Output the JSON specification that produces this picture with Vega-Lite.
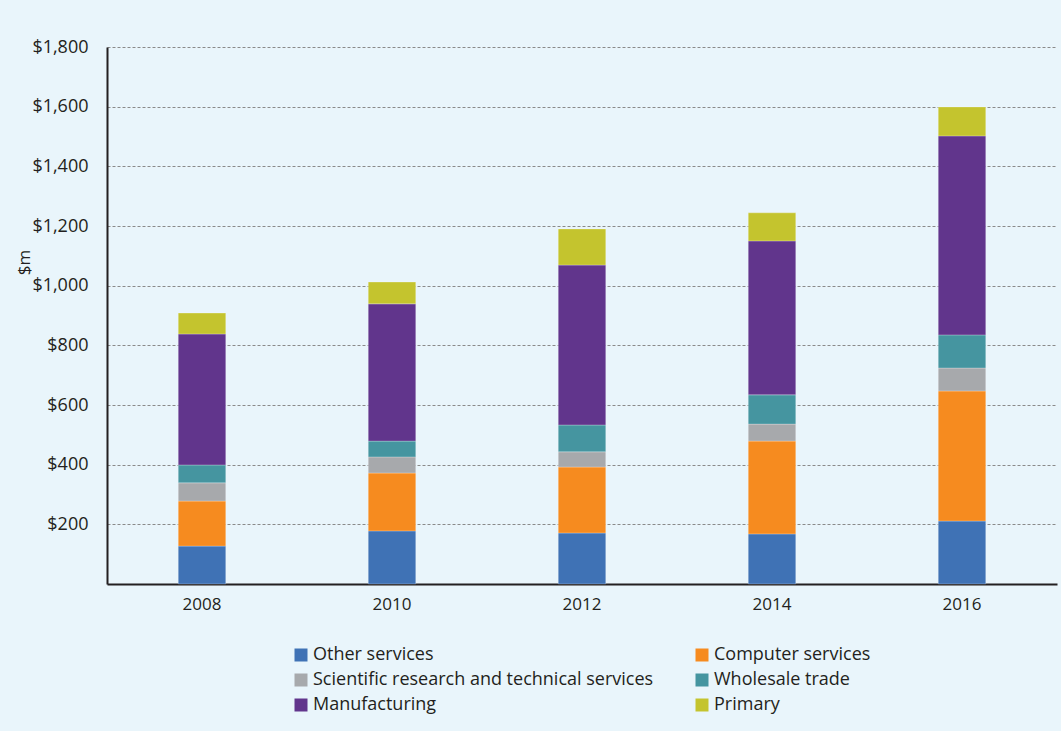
{
  "$schema": "https://vega.github.io/schema/vega-lite/v6.json",
  "width": 950,
  "height": 537,
  "autosize": {"type": "none"},
  "padding": {"left": 107, "top": 47, "right": 4, "bottom": 147},
  "background": "#e9f5fb",
  "config": {
    "view": {"stroke": null},
    "font": "Open Sans",
    "axis": {"labelFont": "Open Sans", "titleFont": "Open Sans", "labelColor": "#231f20", "titleColor": "#231f20"},
    "legend": {"labelFont": "Open Sans", "labelColor": "#231f20"}
  },
  "data": {
    "values": [
      {"year": "2008", "sector": "Other services", "ord": 1, "value": 127},
      {"year": "2008", "sector": "Computer services", "ord": 2, "value": 151},
      {"year": "2008", "sector": "Scientific research and technical services", "ord": 3, "value": 61},
      {"year": "2008", "sector": "Wholesale trade", "ord": 4, "value": 60},
      {"year": "2008", "sector": "Manufacturing", "ord": 5, "value": 439},
      {"year": "2008", "sector": "Primary", "ord": 6, "value": 70},
      {"year": "2010", "sector": "Other services", "ord": 1, "value": 178},
      {"year": "2010", "sector": "Computer services", "ord": 2, "value": 194},
      {"year": "2010", "sector": "Scientific research and technical services", "ord": 3, "value": 54},
      {"year": "2010", "sector": "Wholesale trade", "ord": 4, "value": 53},
      {"year": "2010", "sector": "Manufacturing", "ord": 5, "value": 460},
      {"year": "2010", "sector": "Primary", "ord": 6, "value": 73},
      {"year": "2012", "sector": "Other services", "ord": 1, "value": 171},
      {"year": "2012", "sector": "Computer services", "ord": 2, "value": 221},
      {"year": "2012", "sector": "Scientific research and technical services", "ord": 3, "value": 51},
      {"year": "2012", "sector": "Wholesale trade", "ord": 4, "value": 90},
      {"year": "2012", "sector": "Manufacturing", "ord": 5, "value": 536},
      {"year": "2012", "sector": "Primary", "ord": 6, "value": 121},
      {"year": "2014", "sector": "Other services", "ord": 1, "value": 168},
      {"year": "2014", "sector": "Computer services", "ord": 2, "value": 311},
      {"year": "2014", "sector": "Scientific research and technical services", "ord": 3, "value": 57},
      {"year": "2014", "sector": "Wholesale trade", "ord": 4, "value": 98},
      {"year": "2014", "sector": "Manufacturing", "ord": 5, "value": 516},
      {"year": "2014", "sector": "Primary", "ord": 6, "value": 94},
      {"year": "2016", "sector": "Other services", "ord": 1, "value": 211},
      {"year": "2016", "sector": "Computer services", "ord": 2, "value": 436},
      {"year": "2016", "sector": "Scientific research and technical services", "ord": 3, "value": 77},
      {"year": "2016", "sector": "Wholesale trade", "ord": 4, "value": 111},
      {"year": "2016", "sector": "Manufacturing", "ord": 5, "value": 667},
      {"year": "2016", "sector": "Primary", "ord": 6, "value": 97}
    ]
  },
  "mark": {"type": "bar", "stroke": "#ffffff", "strokeOpacity": 0.25, "strokeWidth": 1},
  "encoding": {
    "x": {
      "field": "year",
      "type": "nominal",
      "scale": {"paddingInner": 0.75, "paddingOuter": 0.375},
      "axis": {
        "title": null,
        "labelAngle": 0,
        "labelFontSize": 17,
        "labelPadding": 12,
        "ticks": false,
        "domainColor": "#231f20",
        "domainWidth": 2
      }
    },
    "y": {
      "field": "value",
      "type": "quantitative",
      "stack": "zero",
      "scale": {"domain": [0, 1800], "nice": false},
      "axis": {
        "title": "$m",
        "titleFontSize": 17,
        "titleFontWeight": "normal",
        "titleX": -74,
        "titleY": 215,
        "values": [200, 400, 600, 800, 1000, 1200, 1400, 1600, 1800],
        "format": "$,.0f",
        "labelFontSize": 18,
        "labelPadding": 19,
        "ticks": false,
        "domainColor": "#231f20",
        "domainWidth": 2,
        "gridColor": "#8a8a8a",
        "gridDash": [3, 2],
        "gridWidth": 1
      }
    },
    "color": {
      "field": "sector",
      "type": "nominal",
      "sort": ["Other services", "Computer services", "Scientific research and technical services", "Wholesale trade", "Manufacturing", "Primary"],
      "scale": {
        "domain": ["Other services", "Computer services", "Scientific research and technical services", "Wholesale trade", "Manufacturing", "Primary"],
        "range": ["#3f72b5", "#f68b1f", "#a7a9ac", "#4595a0", "#61358c", "#c4c42e"]
      },
      "legend": {
        "title": null,
        "orient": "none",
        "direction": "horizontal",
        "legendX": 185,
        "legendY": 599,
        "columns": 2,
        "columnPadding": 39,
        "rowPadding": 7,
        "symbolType": "square",
        "symbolSize": 169,
        "symbolStrokeWidth": 0,
        "labelFontSize": 18,
        "labelOffset": 3,
        "labelLimit": 500
      }
    },
    "order": {"field": "ord", "type": "quantitative"}
  }
}
